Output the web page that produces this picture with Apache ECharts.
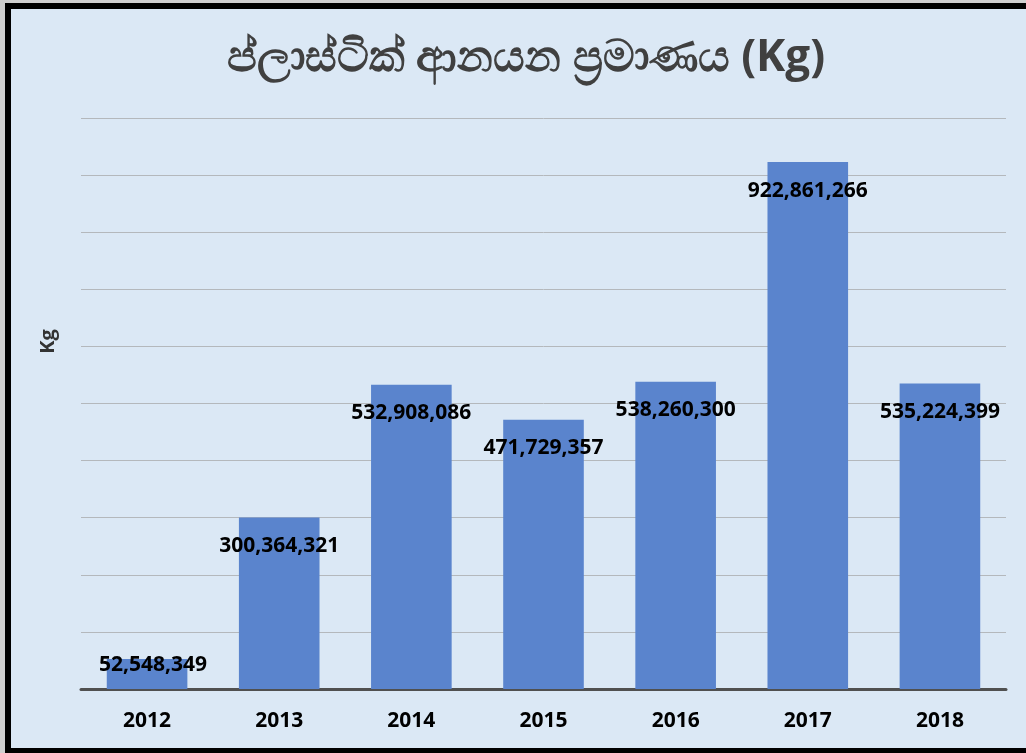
<!DOCTYPE html>
<html>
<head>
<meta charset="utf-8">
<script src="https://cdn.jsdelivr.net/npm/echarts@6/dist/echarts.min.js"></script>
<style>
  html, body { margin: 0; padding: 0; width: 1026px; height: 753px; overflow: hidden; background: #d8d8d8; }
  #wrap { position: absolute; left: 0; top: 0; width: 1026px; height: 753px; background: #dbe8f5; }
  #chart { position: absolute; left: 0; top: 0; width: 1026px; height: 753px; }
  .b { position: absolute; background: #000; }
</style>
</head>
<body>
<div id="wrap">
  <div id="chart"></div>
  <div class="b" style="left:0;top:0;width:1026px;height:3px;background:#cfcfcf"></div>
  <div class="b" style="left:5px;top:3px;width:1021px;height:6px"></div>
  <div class="b" style="left:0;top:0;width:5px;height:753px;background:#cfcfcf"></div>
  <div class="b" style="left:5px;top:3px;width:6px;height:750px"></div>
  <div class="b" style="left:5px;top:748px;width:1021px;height:5px"></div>
</div>
<script>
const titleText = 'ප්ලාස්ටික් ආනයන ප්‍රමාණය (Kg)';
const yAxisName = 'Kg';
const categories = ['2012', '2013', '2014', '2015', '2016', '2017', '2018'];
const values = [52548349, 300364321, 532908086, 471729357, 538260300, 922861266, 535224399];
const yMin = 0;
const yMax = 1000000000;
const yInterval = 100000000;

const fontFam = '"Open Sans", "Noto Sans", sans-serif';
const fmt = v => v.toLocaleString('en-US');

const barData = values.map((v, i) => {
  const item = { value: v };
  if (i === 0) {
    item.label = { position: 'top', distance: -17, offset: [6, 0] };
  }
  return item;
});

const chart = echarts.init(document.getElementById('chart'), null, { renderer: 'canvas' });
chart.setOption({
  backgroundColor: 'transparent',
  animation: false,
  title: {
    text: titleText,
    left: 521,
    top: 31,
    textAlign: 'center',
    textStyle: { fontFamily: fontFam, fontSize: 44, fontWeight: 'bold', color: '#404040' }
  },
  grid: { left: 81, right: 20, top: 118, bottom: 64, containLabel: false },
  xAxis: {
    type: 'category',
    data: categories,
    axisLine: { show: true, lineStyle: { color: '#505050', width: 3 } },
    axisTick: { show: false },
    axisLabel: { margin: 22, color: '#000', fontFamily: fontFam, fontSize: 21, fontWeight: 'bold' }
  },
  yAxis: {
    type: 'value',
    min: yMin,
    max: yMax,
    interval: yInterval,
    name: yAxisName,
    nameLocation: 'middle',
    nameGap: 23,
    nameRotate: 90,
    nameTextStyle: { fontFamily: fontFam, fontSize: 20, fontWeight: 'bold', color: '#333', padding: [0, 0, 0, 124] },
    axisLabel: { show: false },
    axisLine: { show: false },
    axisTick: { show: false },
    splitLine: { show: true, lineStyle: { color: '#b4b8bc', width: 1 } }
  },
  series: [{
    type: 'bar',
    data: barData,
    barCategoryGap: '39%',
    itemStyle: { color: '#5a84cd' },
    label: {
      show: true,
      position: 'insideTop',
      distance: 18,
      color: '#000',
      fontFamily: fontFam,
      fontSize: 21,
      fontWeight: 'bold',
      formatter: p => fmt(p.value)
    }
  }]
});
</script>
</body>
</html>
